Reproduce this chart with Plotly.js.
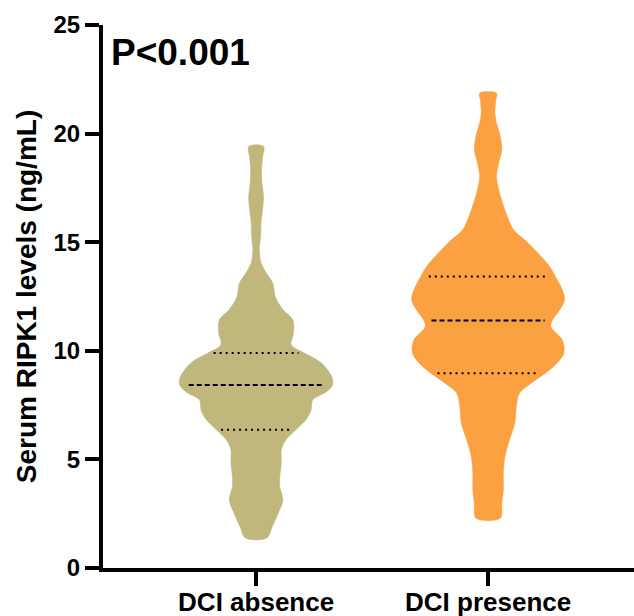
<!DOCTYPE html>
<html><head><meta charset="utf-8">
<script src="https://cdn.plot.ly/plotly-3.0.1.min.js"></script>
<style>html,body{margin:0;padding:0;background:#fff;overflow:hidden}</style>
</head><body><div id="chart" style="width:634px;height:616px"></div>
<script>
// ---- data ----
const categories = ['DCI absence', 'DCI presence'];

// violin outline: RIPK1 level (ng/mL) and relative density (1 = widest)
const absenceLevels  = [1.38, 1.9, 2.53, 3.13, 3.75, 4.2, 4.84, 5.44, 5.9, 6.36, 6.82, 7.28, 7.74, 8.12, 8.43, 8.8, 9.45, 9.9, 10.28, 10.83, 11.43, 11.9, 12.5, 13.1, 13.6, 14.05, 14.65, 15.3, 15.9, 16.5, 17.1, 17.7, 18.3, 18.9, 19.41];
const absenceDensity = [0.14, 0.21, 0.29, 0.35, 0.31, 0.31, 0.33, 0.33, 0.39, 0.52, 0.65, 0.72, 0.74, 0.92, 1.00, 0.99, 0.85, 0.63, 0.46, 0.49, 0.48, 0.35, 0.25, 0.22, 0.13, 0.065, 0.043, 0.06, 0.065, 0.085, 0.098, 0.078, 0.072, 0.085, 0.098];

const presenceLevels  = [2.29, 2.98, 3.59, 4.36, 5.13, 5.9, 6.67, 7.43, 8.05, 8.5, 8.97, 9.43, 9.9, 10.5, 11.12, 11.4, 11.9, 12.35, 12.8, 13.42, 13.9, 14.35, 14.98, 15.58, 16.19, 16.8, 17.42, 18.03, 18.66, 19.26, 19.88, 20.5, 20.97, 21.5, 21.87];
const presenceDensity = [0.16, 0.18, 0.20, 0.20, 0.22, 0.28, 0.35, 0.37, 0.41, 0.56, 0.75, 0.90, 0.99, 0.97, 0.82, 0.84, 0.94, 1.00, 0.97, 0.88, 0.80, 0.69, 0.52, 0.33, 0.25, 0.19, 0.14, 0.11, 0.14, 0.18, 0.16, 0.11, 0.09, 0.10, 0.11];

// [Q1, median, Q3]
const absenceQuartiles  = [6.36, 8.43, 9.9];
const presenceQuartiles = [8.97, 11.4, 13.42];

const yTickValues = [0, 5, 10, 15, 20, 25];
const pValueLabel = 'P<0.001';
const yAxisTitle = 'Serum RIPK1 levels (ng/mL)';

// ---- drawing ----
const COLORS = ['#C0B77D', '#FCA142'];
const HALF = 0.33;       // half width of widest part, in category units
const LINE_FRAC = 0.88;  // quartile lines are slightly inset
const FONT = 'Liberation Sans, Arial, Helvetica, sans-serif';

function outline(center, levels, density) {
  const xs = [], ys = [];
  for (let i = 0; i < levels.length; i++) { xs.push(center + density[i] * HALF); ys.push(levels[i]); }
  for (let i = levels.length - 1; i >= 0; i--) { xs.push(center - density[i] * HALF); ys.push(levels[i]); }
  xs.push(xs[0]); ys.push(ys[0]);
  return {xs, ys};
}
function widthAt(levels, density, v) {
  for (let i = 0; i < levels.length - 1; i++) {
    if (v >= levels[i] && v <= levels[i + 1]) {
      const t = (v - levels[i]) / (levels[i + 1] - levels[i]);
      return density[i] + t * (density[i + 1] - density[i]);
    }
  }
  return 0;
}

const groups = [
  {levels: absenceLevels, density: absenceDensity, q: absenceQuartiles},
  {levels: presenceLevels, density: presenceDensity, q: presenceQuartiles}
];

const traces = [];
groups.forEach((g, k) => {
  const o = outline(k, g.levels, g.density);
  traces.push({
    type: 'scatter', mode: 'lines', x: o.xs, y: o.ys,
    fill: 'toself', fillcolor: COLORS[k],
    line: {shape: 'spline', smoothing: 0.9, width: 0.5, color: COLORS[k]},
    hoverinfo: 'skip', showlegend: false, name: categories[k]
  });
});
groups.forEach((g, k) => {
  g.q.forEach((v, j) => {
    const hw = widthAt(g.levels, g.density, v) * HALF * LINE_FRAC;
    traces.push({
      type: 'scatter', mode: 'lines', x: [k - hw, k + hw], y: [v, v],
      line: {color: '#000', width: 2, dash: j === 1 ? '5px,3px' : '2px,4px'},
      hoverinfo: 'skip', showlegend: false
    });
  });
});

const layout = {
  width: 634, height: 616,
  margin: {l: 103, r: 0, t: 25, b: 48},
  paper_bgcolor: '#fff', plot_bgcolor: '#fff',
  showlegend: false,
  font: {family: FONT, color: '#000'},
  xaxis: {
    range: [-0.66, 1.629], tickvals: [0, 1], ticktext: categories,
    showgrid: false, zeroline: false, showline: true, linecolor: '#000', linewidth: 4,
    ticks: 'outside', ticklen: 14, tickwidth: 4, tickcolor: '#000',
    ticklabelstandoff: -6,
    tickfont: {family: FONT, size: 26, weight: 'bold', color: '#000'}
  },
  yaxis: {
    range: [0, 25], tickvals: yTickValues,
    showgrid: false, zeroline: false, showline: true, linecolor: '#000', linewidth: 4,
    ticks: 'outside', ticklen: 14, tickwidth: 4, tickcolor: '#000',
    tickfont: {family: FONT, size: 24, weight: 'bold', color: '#000'},
    title: {text: yAxisTitle, font: {family: FONT, size: 28, weight: 'bold', color: '#000'}, standoff: 10}
  },
  annotations: [{
    text: pValueLabel, xref: 'paper', yref: 'paper', x: 0.012, y: 0.95,
    xanchor: 'left', yanchor: 'middle', showarrow: false,
    font: {family: FONT, size: 37, weight: 'bold', color: '#000'}
  }]
};

Plotly.newPlot('chart', traces, layout, {displayModeBar: false, staticPlot: true});
</script>
</body></html>
